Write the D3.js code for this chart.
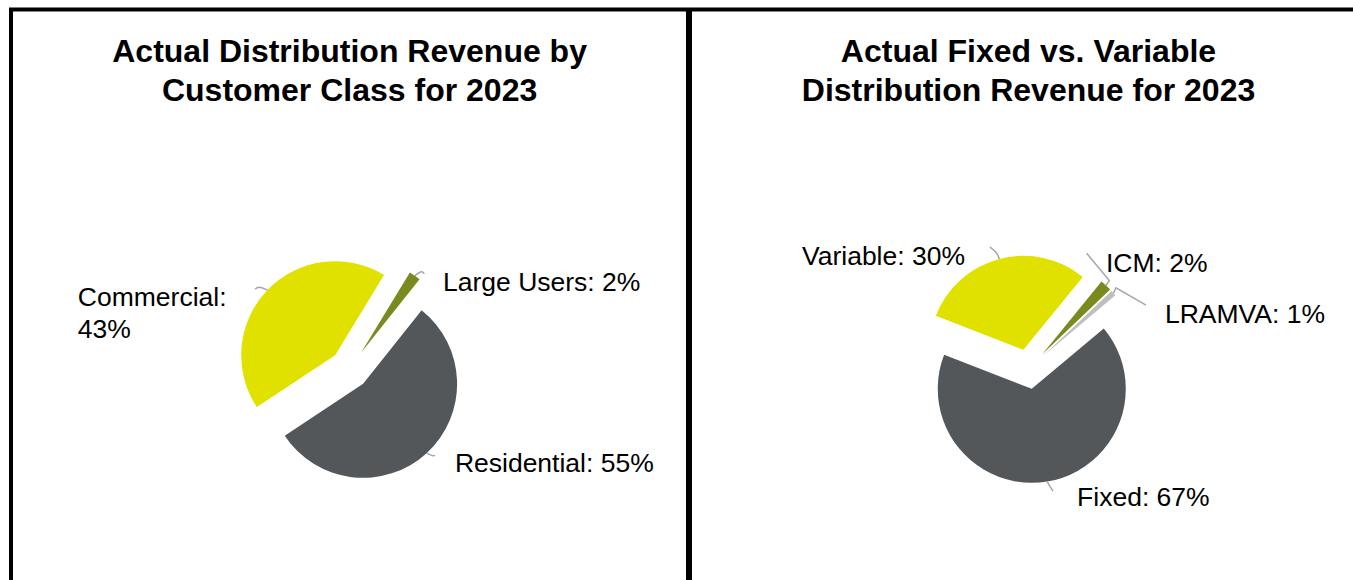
<!DOCTYPE html>
<html>
<head>
<meta charset="utf-8">
<script src="https://cdn.jsdelivr.net/npm/d3@7"></script>
<style>
  body { margin: 0; background: #fff; }
  svg { display: block; font-family: "Liberation Sans", Arial, sans-serif; }
</style>
</head>
<body>
<script>
// chart data
var classNames = ["Residential", "Commercial", "Large Users"];
var classValues = [55, 43, 2];
var classTitle = ["Actual Distribution Revenue by", "Customer Class for 2023"];

var revNames = ["Fixed", "Variable", "ICM", "LRAMVA"];
var revValues = [67, 30, 2, 1];
var revTitle = ["Actual Fixed vs. Variable", "Distribution Revenue for 2023"];

// layout (polar positions relative to the pie centre: [degrees, distance])
var charts = [
  {
    names: classNames, values: classValues, title: classTitle,
    cx: 349.6, start: 38.5,
    colors: ["#54575a", "#e1e100", "#7a8a1e"],
    labels: [[131.7, 141], [294.6, 135], [46.7, 128.4]],
    wrap: [false, true, false],
    leaders: [
      [[137.5, 114], [136.2, 120], [135.2, 121]],
      [[313.9, 114], [312.2, 121.8], [310.2, 123.8]],
      [[34.9, 114], [36.5, 121], [38.1, 120.9]]
    ],
    curved: [true, true, true]
  },
  {
    names: revNames, values: revValues, title: revTitle,
    cx: 1028.5, start: 50,
    colors: ["#54575a", "#e1e100", "#7a8a1e", "#bfbfbf"],
    labels: [[159.2, 136.8], [330.7, 129.7], [36.1, 131.4], [68, 147.2]],
    wrap: [false, false, false, false],
    leaders: [
      [[170.6, 114], [169.5, 120], [168.6, 124.3]],
      [[345.2, 114], [344.5, 121], [342.5, 128]],
      [[42.8, 114], [42.4, 119.8], [26.7, 129.6]],
      [[48.2, 114], [47.1, 119.5], [61.4, 133.8]]
    ],
    curved: [true, true, false, false]
  }
];

var width = 1353, height = 580;
var cy = 369.1, radius = 94, explode = 20;
var rad = Math.PI / 180;

var svg = d3.select("body").append("svg")
    .attr("width", width)
    .attr("height", height);

// panel borders
svg.append("line").attr("x1", 9).attr("x2", width).attr("y1", 9.5).attr("y2", 9.5)
    .attr("stroke", "#000").attr("stroke-width", 4);
svg.append("line").attr("x1", 11).attr("x2", 11).attr("y1", 8).attr("y2", height)
    .attr("stroke", "#000").attr("stroke-width", 4);
svg.append("line").attr("x1", 689).attr("x2", 689).attr("y1", 8).attr("y2", height)
    .attr("stroke", "#000").attr("stroke-width", 6);

function polar(cx, p){
    return [cx + Math.sin(p[0] * rad) * p[1], cy - Math.cos(p[0] * rad) * p[1]];
}

charts.forEach(function(c){
    var g = svg.append("g");

    // title
    g.append("text")
        .attr("x", c.cx).attr("y", 62)
        .attr("text-anchor", "middle")
        .attr("font-size", 32).attr("font-weight", "bold")
        .selectAll("tspan")
        .data(c.title)
        .enter()
        .append("tspan")
        .attr("x", c.cx)
        .attr("dy", function(d, i){ return i ? 39 : 0; })
        .text(function(d){ return d; });

    var pie = d3.pie().sort(null)
        .startAngle(c.start * rad)
        .endAngle((c.start + 360) * rad);
    var arc = d3.arc().innerRadius(0).outerRadius(radius);
    var arcs = pie(c.values);

    // exploded slices
    g.selectAll(".slice")
        .data(arcs)
        .enter()
        .append("path")
        .attr("class", "slice")
        .attr("fill", function(d, i){ return c.colors[i]; })
        .attr("transform", function(d){
            var mid = (d.startAngle + d.endAngle) / 2;
            return "translate(" + (c.cx + Math.sin(mid) * explode) + "," + (cy - Math.cos(mid) * explode) + ")";
        })
        .attr("d", arc);

    // leader lines
    g.selectAll(".leader")
        .data(c.leaders)
        .enter()
        .append("path")
        .attr("class", "leader")
        .attr("fill", "none")
        .attr("stroke", "#a6a6a6")
        .attr("stroke-width", 1.5)
        .attr("d", function(pts, i){
            var line = d3.line().curve(c.curved[i] ? d3.curveNatural : d3.curveLinear);
            return line(pts.map(function(p){ return polar(c.cx, p); }));
        });

    // data labels
    g.selectAll(".label")
        .data(arcs)
        .enter()
        .append("text")
        .attr("class", "label")
        .attr("font-size", 26.5)
        .attr("fill", "#000")
        .each(function(d, i){
            var pos = polar(c.cx, c.labels[i]);
            var anchor = c.labels[i][0] > 180 ? "end" : "start";
            var text = c.names[i] + ": " + c.values[i] + "%";
            var lines = c.wrap[i] ? [c.names[i] + ":", c.values[i] + "%"] : [text];
            var t = d3.select(this)
                .attr("text-anchor", anchor)
                .attr("x", pos[0])
                .attr("y", pos[1] + 9.5 - (lines.length - 1) * 16);
            t.selectAll("tspan")
                .data(lines)
                .enter()
                .append("tspan")
                .attr("x", function(l){ return c.wrap[i] ? pos[0] - 149 : pos[0]; })
                .attr("text-anchor", c.wrap[i] ? "start" : anchor)
                .attr("dy", function(l, j){ return j ? 32 : 0; })
                .text(function(l){ return l; });
        });
});
</script>
</body>
</html>
